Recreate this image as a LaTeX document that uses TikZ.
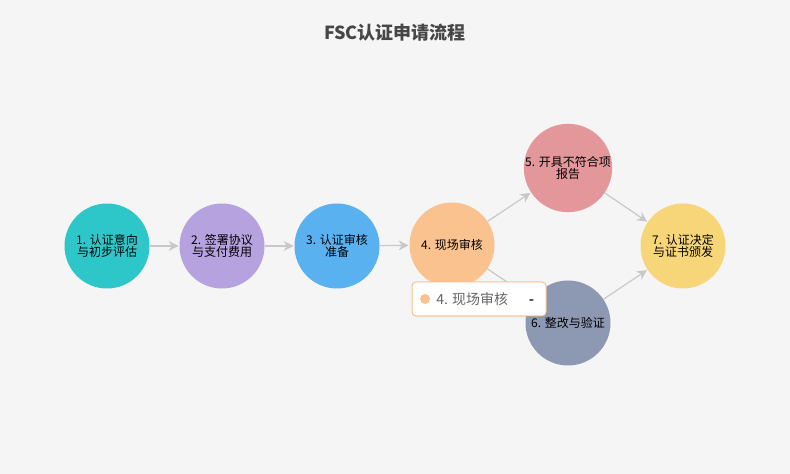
\documentclass[tikz,border=0pt]{standalone}
\usepackage{fontspec}
\setmainfont{Noto Sans CJK SC}
\newfontfamily\cjk{Noto Sans CJK SC}
\usetikzlibrary{arrows.meta,shadows}
\definecolor{bgc}{HTML}{F5F5F5}
\definecolor{cA}{HTML}{2EC7C9}
\definecolor{cB}{HTML}{B6A2DE}
\definecolor{cC}{HTML}{5AB1EF}
\definecolor{cD}{HTML}{F9C28F}
\definecolor{cE}{HTML}{E4979B}
\definecolor{cF}{HTML}{8D98B3}
\definecolor{cG}{HTML}{F7D67A}
\definecolor{edgec}{HTML}{C8C8C8}
\definecolor{titlec}{HTML}{464646}
\definecolor{tipc}{HTML}{666666}
\tikzset{
  stepnode/.style={circle, minimum size=85*0.75pt, inner sep=0pt, align=center,
    font=\cjk\fontsize{9pt}{9pt}\selectfont, text=black},
  flow/.style={draw=edgec, line width=0.9pt, -{Stealth[length=7.5pt,width=7.5pt,inset=2.5pt,fill=edgec]}, shorten >=0.5pt},
}
\begin{document}
\begin{tikzpicture}[x=0.75pt,y=-0.75pt]
\fill[bgc] (0,0) rectangle (790,474);
\useasboundingbox (0,0) rectangle (790,474);
\node[font=\cjk\bfseries\fontsize{13.5pt}{13.5pt}\selectfont, text=titlec] (title) at (395,33) {FSC认证申请流程};
\node[stepnode, fill=cA] (n1) at (107,246) {1. 认证意向\\与初步评估};
\node[stepnode, fill=cB] (n2) at (222,246) {2. 签署协议\\与支付费用};
\node[stepnode, fill=cC] (n3) at (337,246) {3. 认证审核\\准备};
\node[stepnode, fill=cD] (n4) at (452,245) {4. 现场审核};
\node[stepnode, fill=cE] (n5) at (568,168) {5. 开具不符合项\\报告};
\node[stepnode, fill=cF] (n6) at (568,323) {6. 整改与验证};
\node[stepnode, fill=cG] (n7) at (683,246) {7. 认证决定\\与证书颁发};
\draw[flow] (n1) -- (n2);
\draw[flow] (n2) -- (n3);
\draw[flow] (n3) -- (n4);
\draw[flow] (n4) -- (n5);
\draw[flow] (n4) -- (n6);
\draw[flow] (n5) -- (n7);
\draw[flow] (n6) -- (n7);
% tooltip
\node[draw=cD, fill=white, rounded corners=3pt, line width=0.75pt,
  minimum width=134*0.75pt, minimum height=34*0.75pt, inner sep=0pt,
  drop shadow={shadow xshift=0.8pt, shadow yshift=-1pt, opacity=0.12}] (tip) at (479,299) {};
\fill[cD] (425,299) circle (5);
\node[anchor=west, text=tipc, font=\cjk\fontsize{10.5pt}{10.5pt}\selectfont, inner sep=0pt] (tiptext) at (436,299) {4. 现场审核};
\node[anchor=base, text=titlec, font=\cjk\bfseries\fontsize{10.5pt}{10.5pt}\selectfont, inner sep=0pt] (tipdash) at (531.5,304.5) {-};
\end{tikzpicture}
\end{document}
